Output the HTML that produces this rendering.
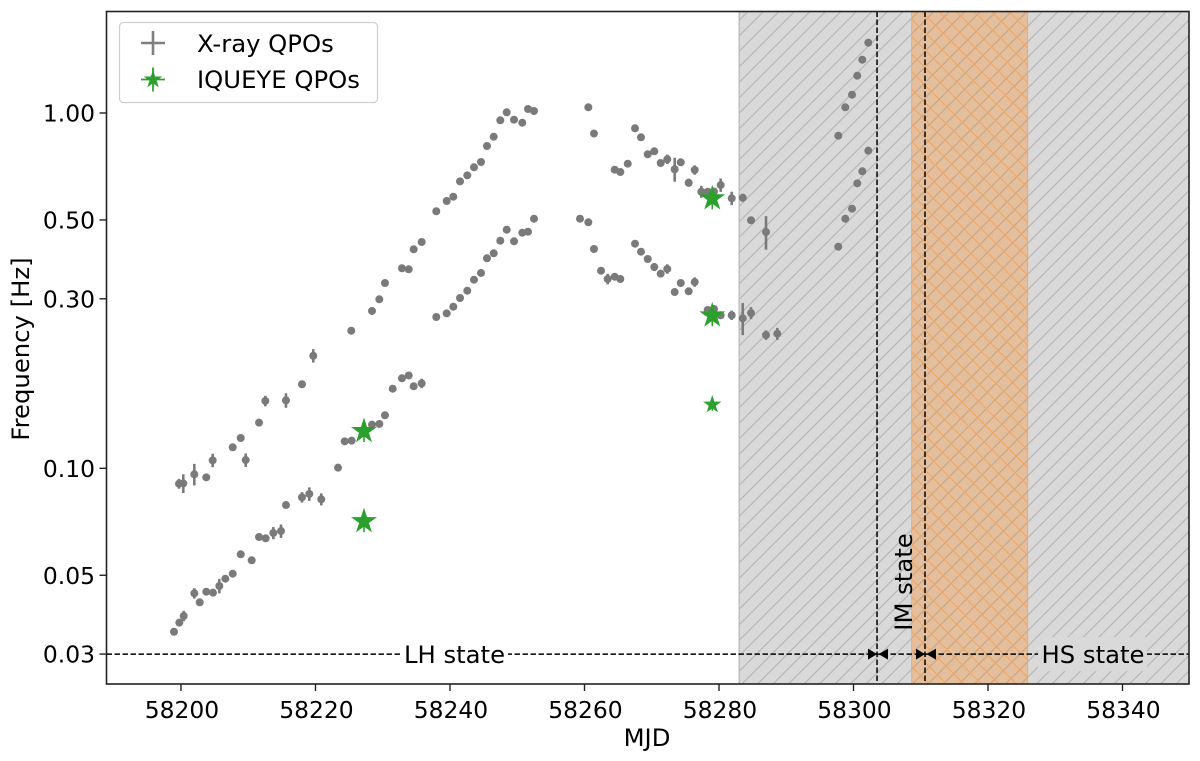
<!DOCTYPE html>
<html lang="en">
<head>
<meta charset="utf-8">
<title>QPO frequency vs MJD</title>
<style>
html,body{margin:0;padding:0;background:#fff;width:1200px;height:761px;overflow:hidden}
svg{display:block;font-family:"DejaVu Sans","Liberation Sans",sans-serif}
</style>
</head>
<body>
<svg id="chart" xmlns="http://www.w3.org/2000/svg" width="1200" height="761" viewBox="0 0 1200 761">
<defs>
<pattern id="hatch-gray" patternUnits="userSpaceOnUse" width="15.5" height="15.5">
<path d="M-3,3 L3,-3 M0,15.5 L15.5,0 M12.5,18.5 L18.5,12.5" stroke="#b8b8b8" stroke-width="1.3" fill="none"/>
</pattern>
<pattern id="hatch-orange" patternUnits="userSpaceOnUse" width="17.5" height="17.5">
<path d="M0,0 L17.5,17.5 M-3,14.5 L3,20.5 M14.5,-3 L20.5,3" stroke="#f0a868" stroke-width="1.3" fill="none"/>
</pattern>
<clipPath id="plot-clip"><rect x="106.5" y="11.5" width="1082.5" height="672.5"/></clipPath>
</defs>
<rect x="0" y="0" width="1200" height="761" fill="#fff"/>
<g id="regions" clip-path="url(#plot-clip)"></g>
<g id="guides" clip-path="url(#plot-clip)"></g>
<g id="marks" clip-path="url(#plot-clip)"></g>
<g id="ticks"></g>
<rect x="106.5" y="11.5" width="1082.5" height="672.5" fill="none" stroke="#222" stroke-width="1.6"/>
<text x="647" y="746" font-size="24.3" text-anchor="middle" fill="#000">MJD</text>
<text transform="translate(29,349) rotate(-90)" font-size="24.3" text-anchor="middle" fill="#000">Frequency [Hz]</text>
<g>
<rect x="119.5" y="22.5" width="258" height="80" rx="4" ry="4" fill="#fff" fill-opacity="0.8" stroke="#cfcfcf" stroke-width="1.2"/>
<g stroke="#7f7f7f" stroke-width="2.6">
<line x1="141" y1="43" x2="165" y2="43"/><line x1="153" y1="31" x2="153" y2="55"/>
</g>
<text x="197" y="52" font-size="24.3" fill="#000">X-ray QPOs</text>
<g stroke="#2ca02c" stroke-width="1.8">
<line x1="141" y1="79.5" x2="165" y2="79.5"/><line x1="153" y1="67.5" x2="153" y2="91.5"/>
</g>
<polygon id="legend-star" fill="#2ca02c" stroke="#2ca02c" stroke-width="1.4"/>
<text x="197" y="88" font-size="24.3" fill="#000">IQUEYE QPOs</text>
</g>
</svg>
<script>
/* ---------- chart data (MJD, Hz) ---------- */
const upperMjd = [58199.7,58200.34,58201.98,58203.76,58204.71,58207.69,58208.88,58209.62,58211.6,58212.54,58215.61,58217.99,58219.67,58225.32,58228.4,58229.49,58230.33,58232.86,58233.86,58234.6,58235.79,58237.96,58239.51,58240.49,58241.49,58242.57,58243.57,58244.61,58245.5,58246.5,58247.48,58248.43,58249.52,58250.75,58251.6,58252.49,58260.57,58261.41,58264.49,58265.33,58266.43,58267.51,58268.4,58269.4,58270.38,58271.33,58272.31,58273.41,58274.31,58275.49,58276.39,58277.37,58278.32,58279.26,58280.25,58281.89,58283.53,58284.76,58286.99,58297.74,58298.78,58299.78,58300.56,58301.31,58302.2];
const upperFreq = [0.0905,0.0907,0.0962,0.0943,0.1053,0.1146,0.1217,0.1055,0.1344,0.1547,0.1553,0.1724,0.2074,0.2439,0.2772,0.299,0.3323,0.3656,0.3632,0.4134,0.4334,0.529,0.5654,0.5813,0.6422,0.6677,0.7034,0.7279,0.8075,0.8576,0.9538,1.0046,0.9575,0.9391,1.0263,1.013,1.0376,0.8755,0.6925,0.6823,0.7199,0.9056,0.8543,0.7652,0.7802,0.7232,0.7408,0.6945,0.7265,0.6364,0.6912,0.6003,0.6003,0.6012,0.6269,0.5754,0.5776,0.4989,0.4624,0.8631,1.0376,1.1258,1.2735,1.4125,1.5773];
const upperErr = [0.0029,0.0055,0.0067,0,0.0046,0,0,0.0046,0.0029,0.0053,0.0073,0.003,0.009,0,0,0,0,0.0078,0,0,0.0093,0,0,0,0,0,0,0,0,0,0,0,0,0,0,0,0,0,0,0,0,0.019,0,0,0,0.0155,0.0226,0.054,0,0.0165,0.021,0.0233,0,0,0.0272,0.025,0.015,0,0.05,0,0,0,0,0,0];
const lowerMjd = [58198.96,58199.75,58200.4,58201.98,58202.78,58203.76,58204.76,58205.7,58206.59,58207.69,58208.88,58210.51,58211.6,58212.59,58213.73,58214.87,58215.61,58217.99,58219.08,58220.86,58223.35,58224.34,58225.38,58228.4,58229.49,58230.33,58231.48,58232.86,58233.86,58234.6,58235.79,58237.96,58239.51,58240.49,58241.49,58242.57,58243.57,58244.61,58245.5,58246.5,58247.48,58248.43,58249.52,58250.75,58251.6,58252.49,58259.33,58260.57,58261.41,58262.46,58263.45,58264.49,58265.33,58267.51,58268.4,58269.4,58270.38,58271.33,58272.31,58273.41,58274.31,58275.49,58276.39,58278.32,58279.26,58280.25,58281.89,58283.53,58284.76,58286.99,58288.67,58297.74,58298.78,58299.78,58300.56,58301.31,58302.2];
const lowerFreq = [0.03467,0.03677,0.0384,0.04448,0.04196,0.04494,0.04466,0.04664,0.0489,0.0505,0.05728,0.0551,0.06407,0.06353,0.06575,0.0666,0.07881,0.08288,0.08467,0.0818,0.1004,0.1191,0.1196,0.1327,0.1333,0.141,0.1675,0.1792,0.1825,0.1702,0.1734,0.2666,0.273,0.285,0.3015,0.3161,0.3395,0.3546,0.39,0.4028,0.4371,0.4694,0.4354,0.4603,0.4633,0.504,0.504,0.4925,0.4142,0.3599,0.341,0.3461,0.341,0.4286,0.407,0.3882,0.3685,0.353,0.3639,0.3134,0.3323,0.3149,0.3344,0.279,0.2808,0.2696,0.2696,0.2644,0.2735,0.2372,0.2392,0.4204,0.504,0.5378,0.634,0.6855,0.7833];
const lowerErr = [0,0,0.0013,0.0015,0,0,0,0.0022,0,0,0,0,0,0,0.0026,0.0029,0.0017,0.0028,0.0037,0.0032,0.0021,0,0,0,0,0,0,0.0031,0,0,0.0053,0,0,0,0,0,0,0,0,0,0,0,0,0,0,0,0,0,0,0,0.0117,0.0074,0,0,0,0,0.0095,0,0.0111,0,0,0,0.0102,0,0,0,0.0082,0.0274,0.0106,0.0072,0.0093,0,0,0,0,0,0];
const iqueyeMjd = [58227.21,58227.21,58279,58279,58279];
const iqueyeFreq = [0.1272,0.0709,0.5745,0.2691,0.1511];
const iqueyeErr = [0.0086,0.0048,0.039,0.018,0.0059];
const iqueyeBig = [1,1,1,1,0];
const xTickValues = [58200,58220,58240,58260,58280,58300,58320,58340];
const yTickValues = [0.03,0.05,0.1,0.3,0.5,1];
const yTickLabels = ["0.03","0.05","0.10","0.30","0.50","1.00"];
const hardRegion = [58283,58350];
const softRegion = [58308.65,58325.9];
const transitions = [58303.5,58310.63];
const guideFreq = 0.03;

/* ---------- axis functions ---------- */
const NS = 'http://www.w3.org/2000/svg';
function xPos(m){ return 181 + (m - 58200) * 6.725; }
function yPos(f){ return 113 - 355.3 * Math.log10(f); }
function make(tag, attrs, parent){
  const el = document.createElementNS(NS, tag);
  for (const k in attrs) el.setAttribute(k, attrs[k]);
  parent.appendChild(el);
  return el;
}
function starPoints(cx, cy, R){
  const r = R * 0.382, pts = [];
  for (let i = 0; i < 10; i++){
    const a = -Math.PI / 2 + i * Math.PI / 5, q = i % 2 ? r : R;
    pts.push((cx + q * Math.cos(a)).toFixed(2) + ',' + (cy + q * Math.sin(a)).toFixed(2));
  }
  return pts.join(' ');
}
document.getElementById('legend-star').setAttribute('points', starPoints(153, 79.5, 7.5));

const regions = document.getElementById('regions');
const guides = document.getElementById('guides');
const marks = document.getElementById('marks');
const ticks = document.getElementById('ticks');
const TOP = 11.5, BOTTOM = 684;

/* ---------- shaded regions ---------- */
const hx0 = xPos(hardRegion[0]), hx1 = xPos(hardRegion[1]);
const hardFill = make('rect', {x: hx0, y: TOP, width: hx1 - hx0, height: BOTTOM - TOP, fill: '#d9d9d9'}, regions);


const hardHatch = make('rect', {x: hx0, y: TOP, width: hx1 - hx0, height: BOTTOM - TOP, fill: 'url(#hatch-gray)'}, regions);


const hardEdge = make('line', {x1: hx0, x2: hx0, y1: TOP, y2: BOTTOM, stroke: '#bdbdbd', 'stroke-width': 1.4}, regions);


const sx0 = xPos(softRegion[0]), sx1 = xPos(softRegion[1]);
const softFill = make('rect', {x: sx0, y: TOP, width: sx1 - sx0, height: BOTTOM - TOP, fill: '#ff7f0e', 'fill-opacity': 0.29, stroke: '#f4a862', 'stroke-width': 1}, regions);


const softHatch = make('rect', {x: sx0, y: TOP, width: sx1 - sx0, height: BOTTOM - TOP, fill: 'url(#hatch-orange)'}, regions);



/* ---------- state guides ---------- */
const gy = yPos(guideFreq);
const hline = make('line', {x1: 106.5, x2: 1189, y1: gy, y2: gy, stroke: '#000', 'stroke-width': 1.5, 'stroke-dasharray': '5.5 2.5'}, guides);


transitions.forEach(function(t){
  const tx = xPos(t);
  const v = make('line', {x1: tx, x2: tx, y1: TOP, y2: BOTTOM, stroke: '#000', 'stroke-width': 1.5, 'stroke-dasharray': '5.5 2.5'}, guides);
  
  
  const a1 = make('polygon', {points: (tx - 9) + ',' + (gy - 5.5) + ' ' + tx + ',' + gy + ' ' + (tx - 9) + ',' + (gy + 5.5), fill: '#000'}, guides);
  
  
  const a2 = make('polygon', {points: (tx + 11) + ',' + (gy - 5.5) + ' ' + (tx + 1.5) + ',' + gy + ' ' + (tx + 11) + ',' + (gy + 5.5), fill: '#000'}, guides);
  
  
});
const lhBox = make('rect', {x: 400, y: gy - 17, width: 108, height: 34, fill: '#fff'}, guides);


const lhText = make('text', {x: 454.5, y: gy + 9, 'font-size': 24.3, 'text-anchor': 'middle', fill: '#000'}, guides);
lhText.textContent = 'LH state';


const hsBox = make('rect', {x: 1038, y: gy - 17, width: 109, height: 34, fill: '#d9d9d9'}, guides);


const hsText = make('text', {x: 1093, y: gy + 9, 'font-size': 24.3, 'text-anchor': 'middle', fill: '#000'}, guides);
hsText.textContent = 'HS state';


const imText = make('text', {transform: 'translate(912,582) rotate(-90)', 'font-size': 24.3, 'text-anchor': 'middle', fill: '#000'}, guides);
imText.textContent = 'IM state';



/* ---------- X-ray QPO points ---------- */
function drawTrack(mjds, freqs, errs, name){
  mjds.forEach(function(m, i){
    const cx = xPos(m), f = freqs[i], e = errs[i];
    if (e > 0){
      const bar = make('line', {x1: cx, x2: cx, y1: yPos(f + e), y2: yPos(f - e), stroke: '#7a7a7a', 'stroke-width': 2.6}, marks);
      
      
    }
    const dot = make('circle', {cx: cx, cy: yPos(f), r: 4, fill: '#7a7a7a'}, marks);
    
    
  });
}
drawTrack(upperMjd, upperFreq, upperErr, 'xray-qpo-upper');
drawTrack(lowerMjd, lowerFreq, lowerErr, 'xray-qpo-lower');

/* ---------- IQUEYE QPO stars ---------- */
iqueyeMjd.forEach(function(m, i){
  const cx = xPos(m), f = iqueyeFreq[i], e = iqueyeErr[i];
  const bar = make('line', {x1: cx, x2: cx, y1: yPos(f + e), y2: yPos(f - e), stroke: '#2ca02c', 'stroke-width': 1.6}, marks);
  
  
  const star = make('polygon', {points: starPoints(cx, yPos(f), iqueyeBig[i] ? 11.2 : 7.2), fill: '#2ca02c', stroke: '#2ca02c', 'stroke-width': 1.5}, marks);
  
  
});

/* ---------- ticks ---------- */
xTickValues.forEach(function(v){
  const tx = xPos(v);
  const t = make('line', {x1: tx, x2: tx, y1: BOTTOM, y2: BOTTOM + 7, stroke: '#222', 'stroke-width': 1.4}, ticks);
  
  
  const l = make('text', {x: tx + 1, y: 718, 'font-size': 23.4, 'text-anchor': 'middle', fill: '#000'}, ticks);
  l.textContent = String(v);
  
  
});
yTickValues.forEach(function(v, i){
  const ty = yPos(v);
  const t = make('line', {x1: 106.5, x2: 99.5, y1: ty, y2: ty, stroke: '#222', 'stroke-width': 1.4}, ticks);
  
  
  const l = make('text', {x: 95, y: ty + 8.5, 'font-size': 23.4, 'text-anchor': 'end', fill: '#000'}, ticks);
  l.textContent = yTickLabels[i];
  
  
});
</script>
</body>
</html>
